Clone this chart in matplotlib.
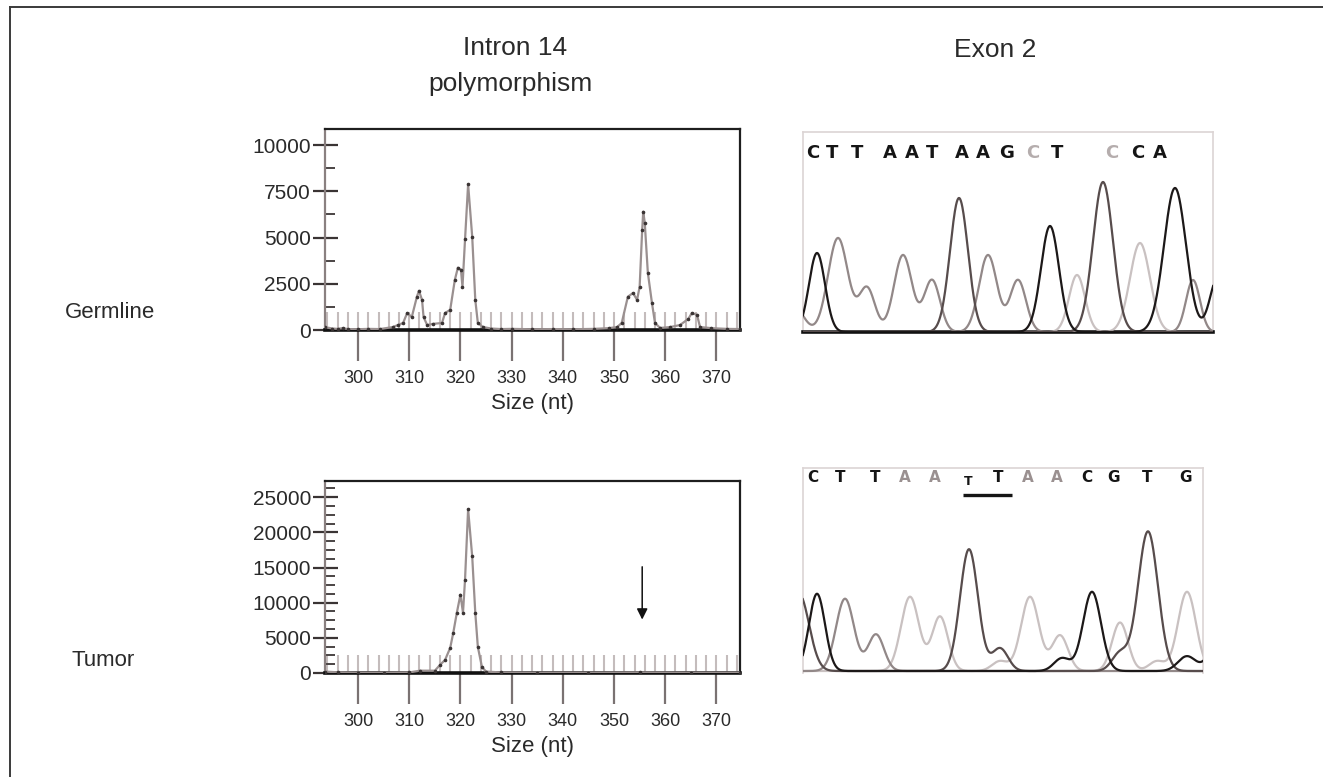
import numpy as np
import matplotlib
matplotlib.use("Agg")
import matplotlib.pyplot as plt
from matplotlib.lines import Line2D
from matplotlib.ticker import MultipleLocator

plt.rcParams['font.family'] = ['Liberation Sans', 'DejaVu Sans']

# ---------------- data ----------------
size_ticks = [300, 310, 320, 330, 340, 350, 360, 370]
germ_yticks = [0, 2500, 5000, 7500, 10000]
tumor_yticks = [0, 5000, 10000, 15000, 20000, 25000]

germ_nt = [293.6, 295, 296, 297, 298, 300, 302, 304.3, 306.8, 307.8, 308.8, 309.6,
           310.5, 311.5, 311.9, 312.5, 312.8, 313.5, 314.6, 316.4, 317, 318, 318.9,
           319.5, 320.1, 320.4, 320.9, 321.5, 322.3, 322.9, 323.4, 324.4, 326, 328,
           330, 334, 338, 342, 346, 349, 350.6, 351.5, 352.7, 353.7, 354.5, 355,
           355.5, 355.7, 356, 356.6, 357.4, 358, 359, 361, 362.9, 364.5, 365.2,
           366.2, 366.8, 369, 372, 374.6]
germ_rfu = [150, 80, 60, 100, 50, 40, 60, 50, 160, 270, 380, 920,
            700, 1800, 2120, 1630, 700, 270, 330, 380, 920, 1090, 2700,
            3370, 3260, 2340, 4900, 7880, 5050, 1630, 380, 160, 80, 50,
            60, 40, 50, 40, 60, 100, 160, 380, 1800, 2000, 1630, 2340,
            5430, 6400, 5800, 3100, 1470, 380, 110, 160, 270, 600, 920,
            820, 160, 100, 60, 50]

tumor_nt = [293.6, 296, 300, 305, 310, 312.1, 315, 316, 317, 318, 318.6, 319.3,
            320, 320.5, 320.9, 321.5, 322.3, 322.9, 323.4, 324.2, 325, 328, 335,
            345, 355, 365, 374.6]
tumor_rfu = [200, 100, 50, 50, 80, 330, 330, 1140, 1860, 3570, 5710, 8570,
             11140, 8570, 13290, 23290, 16570, 8570, 3710, 860, 200, 80, 50,
             50, 80, 50, 50]
missing_allele_nt = 355.5
arrow_rfu = (15100, 7600)

# sequencing chromatogram peaks: (scan position, signal height, peak width)
germ_black = [(14, 79, 8), (247, 106, 9), (372, 144, 11), (415, 55, 8)]
germ_dark = [(156, 134, 9), (300, 150, 10)]
germ_medium = [(-8, 24, 9), (35, 94, 10), (64, 44, 8), (100, 77, 9), (129, 52, 8),
               (185, 77, 9), (215, 52, 8), (390, 52, 7)]
germ_light = [(274, 57, 8), (337, 89, 10)]

tumor_black = [(14, 78, 8), (259, 13, 8), (289, 80, 9), (384, 15, 9), (412, 22, 8)]
tumor_dark = [(-4, 78, 10), (166, 123, 9), (197, 23, 8), (317, 18, 8), (345, 141, 10)]
tumor_medium = [(42, 73, 9), (73, 37, 8)]
tumor_light = [(107, 75, 9), (137, 55, 8), (197, 10, 8), (227, 75, 9), (257, 36, 8),
               (317, 49, 8), (354, 10, 8), (384, 80, 9)]

germ_bases = list("CTTAATAAGCTCCA")
germ_base_pos = [10, 29, 54, 87, 109, 129, 159, 180, 204, 230, 254, 309, 335, 357]
germ_faint = [9, 11]
tumor_bases = list("CTTAATTAACGTG")
tumor_base_pos = [10, 37, 72, 102, 132, 165, 195, 225, 254, 284, 310, 344, 382]
tumor_faint = [3, 4, 7, 8]
tumor_small = [5]
tumor_underline = (160, 209)

# ---------------- figure ----------------
W, H = 1323, 777
fig = plt.figure(figsize=(W / 100, H / 100), dpi=100)


def box(l, t, r, b):
    return [l / W, 1 - b / H, (r - l) / W, (b - t) / H]


TXT = '#2a2a2a'


def electro(ax, nt, rfu, ymax, yticks, yminor):
    ax.plot(nt, rfu, color='#9a9090', lw=1.6, zorder=3, clip_on=True)
    ax.plot(nt, rfu, ls='none', marker='o', ms=1.6, color='#3a3434', zorder=4)
    ax.set_xlim(293.55, 374.6)
    ax.set_ylim(0, ymax)
    ax.set_xticks(size_ticks)
    ax.set_yticks(yticks)
    ax.xaxis.set_minor_locator(MultipleLocator(2))
    ax.yaxis.set_minor_locator(MultipleLocator(yminor))
    ax.xaxis.remove_overlapping_locs = False
    ax.tick_params(axis='x', which='major', direction='out', length=22, width=1.6,
                   color='#7a7272', labelsize=13, pad=7, labelcolor=TXT)
    ax.tick_params(axis='x', which='minor', direction='in', length=13, width=1.5,
                   color='#c4bcbc')
    ax.tick_params(axis='y', which='major', direction='inout', length=18, width=1.6,
                   color='#3a3434', labelsize=15, pad=1, labelcolor=TXT)
    ax.tick_params(axis='y', which='minor', direction='in', length=7, width=1.4,
                   color='#4a4444')
    for s in ('top', 'right'):
        ax.spines[s].set_linewidth(1.6)
        ax.spines[s].set_color('#1e1e1e')
    ax.spines['left'].set_linewidth(1.6)
    ax.spines['left'].set_color('#8a8080')
    ax.spines['bottom'].set_linewidth(2.6)
    ax.spines['bottom'].set_color('#111111')
    ax.set_xlabel('Size (nt)', fontsize=16, color=TXT, labelpad=4)


ax1 = fig.add_axes(box(325, 129, 740, 330))
electro(ax1, germ_nt, germ_rfu, 10870, germ_yticks, 1250)

ax2 = fig.add_axes(box(325, 481, 740, 673))
electro(ax2, tumor_nt, tumor_rfu, 27300, tumor_yticks, 1250)
ax2.annotate('', xy=(missing_allele_nt, arrow_rfu[1]), xytext=(missing_allele_nt, arrow_rfu[0]),
             arrowprops=dict(arrowstyle='-|>', color='#111111', lw=1.1, mutation_scale=16,
                             shrinkA=0, shrinkB=0))

CH_COLORS = ['#1c1818', '#574c4c', '#928888', '#c9c1c1']


def chromat(ax, channels, xmax, ymax, bottom_dark):
    xs = np.linspace(-20, xmax + 20, 1200)
    for peaks, col in zip(channels, CH_COLORS[::-1]):
        ys = np.zeros_like(xs)
        for p, h, w in peaks:
            ys += h * np.exp(-0.5 * ((xs - p) / w) ** 2)
        ax.plot(xs, ys, color=col, lw=1.6, zorder=3 if col != CH_COLORS[0] else 4)
    ax.set_xlim(0, xmax)
    ax.set_ylim(0, ymax)
    ax.set_xticks([])
    ax.set_yticks([])
    for s in ('top', 'left', 'right'):
        ax.spines[s].set_color('#dcd4d4')
        ax.spines[s].set_linewidth(1.2)
    if bottom_dark:
        ax.spines['bottom'].set_color('#111111')
        ax.spines['bottom'].set_linewidth(2.6)
    else:
        ax.spines['bottom'].set_visible(False)


ax3 = fig.add_axes(box(803, 132, 1213, 332))
chromat(ax3, [germ_light, germ_medium, germ_dark, germ_black], 410, 200, True)
for i, (b, x) in enumerate(zip(germ_bases, germ_base_pos)):
    ax3.text(x, 179, b, ha='center', va='center', fontsize=13, fontweight='bold',
             family='DejaVu Sans', color='#b5adad' if i in germ_faint else '#151515')

ax4 = fig.add_axes(box(803, 468, 1203, 673))
chromat(ax4, [tumor_light, tumor_medium, tumor_dark, tumor_black], 400, 205, False)
ax4.set_ylim(-2, 205)
for i, (b, x) in enumerate(zip(tumor_bases, tumor_base_pos)):
    small = i in tumor_small
    ax4.text(x, 191 if small else 195, b, ha='center', va='center',
             fontsize=9 if small else 11, fontweight='bold', family='DejaVu Sans',
             color='#9a9090' if i in tumor_faint else '#151515')
ax4.plot(tumor_underline, [178, 178], color='#151515', lw=2.4, solid_capstyle='butt')

# titles and row labels
fig.text(515 / W, 1 - 48 / H, 'Intron 14', ha='center', va='center', fontsize=19, color=TXT)
fig.text(510 / W, 1 - 84 / H, 'polymorphism', ha='center', va='center', fontsize=19, color=TXT)
fig.text(995 / W, 1 - 50 / H, 'Exon 2', ha='center', va='center', fontsize=19, color=TXT)
fig.text(65 / W, 1 - 312 / H, 'Germline', ha='left', va='center', fontsize=16, color=TXT)
fig.text(72 / W, 1 - 660 / H, 'Tumor', ha='left', va='center', fontsize=16, color=TXT)

# outer frame (top and left)
fig.add_artist(Line2D([10 / W, 1], [1 - 7 / H, 1 - 7 / H], transform=fig.transFigure,
                      color='#3a3a3a', lw=1.4))
fig.add_artist(Line2D([10 / W, 10 / W], [0, 1 - 7 / H], transform=fig.transFigure,
                      color='#3a3a3a', lw=1.4))

fig.savefig('out.png', dpi=100)
